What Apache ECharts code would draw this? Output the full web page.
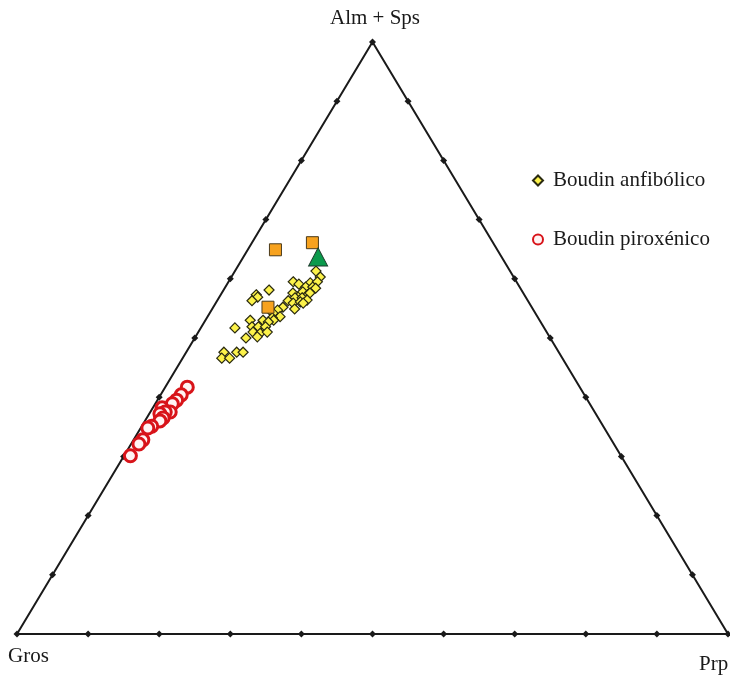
<!DOCTYPE html>
<html>
<head>
<meta charset="utf-8">
<script src="https://cdn.jsdelivr.net/npm/echarts@6/dist/echarts.min.js"></script>
<style>
  html, body { margin: 0; padding: 0; background: #fff; }
  #chart { width: 730px; height: 675px; }
</style>
</head>
<body>
<div id="chart"></div>
<script>
// Garnet compositions (mol %) — Alm+Sps apex, Gros lower-left, Prp lower-right
const apexLabels = ['Alm + Sps', 'Gros', 'Prp'];
const seriesNames = ['Boudin anfibólico', 'Boudin piroxénico'];

// Boudin anfibólico (amphibolitic boudin)
const anfAlmSps = [61.3, 60.3, 59.5, 59.1, 59.3, 59.5, 58.6, 58.6, 58.4, 58.1,
                   57.3, 56.9, 56.3, 57.6, 57.3, 57.8, 57.3, 57.6, 56.8, 56.8,
                   56.4, 56.3, 55.9, 56.1, 55.9, 54.9, 55.2, 54.7, 54.2, 53.6,
                   53.4, 53.0, 53.0, 53.0, 52.7, 51.9, 51.9, 51.9, 51.7, 51.0,
                   50.8, 51.0, 50.2, 50.0, 47.6, 47.6, 47.6, 46.6, 46.6];
const anfPrp    = [11.4, 12.5, 9.1, 10.1, 11.6, 12.5, 11.3, 12.3, 12.8, 6.4,
                   5.0, 5.4, 4.9, 10.0, 11.2, 11.3, 12.2, 12.4, 10.7, 11.7,
                   12.6, 10.0, 10.9, 11.8, 12.3, 11.6, 9.8, 9.3, 8.9, 10.2,
                   9.2, 6.3, 8.1, 9.6, 9.0, 7.1, 8.0, 9.0, 4.8, 7.7,
                   8.8, 9.7, 8.7, 7.2, 5.3, 7.1, 8.0, 5.5, 6.6];

// Boudin piroxénico (pyroxenitic boudin)
const pirAlmSps = [41.7, 40.4, 39.5, 38.9, 38.2, 37.5, 37.5, 37.2, 36.5, 36.0,
                   35.1, 34.8, 32.8, 32.1, 30.1];
const pirPrp    = [3.1, 2.9, 2.7, 2.4, 1.3, 2.8, 2.1, 1.5, 2.3, 2.1,
                   1.4, 1.0, 1.3, 1.1, 0.9];

// Additional garnet analyses
const sqAlmSps = [64.9, 66.1, 55.2];
const sqPrp    = [3.9, 8.5, 7.7];
const triAlmSps = [63.7];
const triPrp    = [10.5];

const tickSteps = [10, 20, 30, 40, 50, 60, 70, 80, 90];

// ternary (Alm+Sps, Prp, Gros) -> plane coordinates; Gros closes the sum to 100
function toXY(alm, prp) {
  const gros = 100 - alm - prp;
  return [prp + alm / 2, alm, gros];
}
function build(almArr, prpArr) {
  return almArr.map((a, i) => toXY(a, prpArr[i]));
}

const frame = [[0, 0], [100, 0], [50, 100], [0, 0]];
const ticks = [];
tickSteps.forEach(t => {
  ticks.push([t, 0]);               // Gros–Prp edge
  ticks.push([t / 2, t]);           // Gros–Alm edge
  ticks.push([100 - t / 2, t]);     // Prp–Alm edge
});
const corners = [[0, 0], [100, 0], [50, 100]];

const serif = '"Liberation Serif", "DejaVu Serif", serif';
const chart = echarts.init(document.getElementById('chart'));

chart.setOption({
  animation: false,
  backgroundColor: '#ffffff',
  grid: { left: 17, right: 2, top: 42, bottom: 41 },
  xAxis: { type: 'value', min: 0, max: 100, show: false },
  yAxis: { type: 'value', min: 0, max: 100, show: false },
  legend: {
    data: seriesNames,
    orient: 'vertical',
    left: 527,
    top: 165,
    itemGap: 38,
    itemWidth: 10,
    itemHeight: 10,
    textStyle: { fontFamily: serif, fontSize: 21, color: '#1a1a1a', padding: [0, 0, 0, 5] }
  },
  graphic: [
    { type: 'text', left: 330, top: 8,
      style: { text: apexLabels[0], font: '21px ' + serif, fill: '#1a1a1a' } },
    { type: 'text', left: 8, top: 646,
      style: { text: apexLabels[1], font: '21px ' + serif, fill: '#1a1a1a' } },
    { type: 'text', left: 699, top: 654,
      style: { text: apexLabels[2], font: '21px ' + serif, fill: '#1a1a1a' } }
  ],
  series: [
    {
      type: 'line', data: frame, symbol: 'none', silent: true,
      lineStyle: { color: '#1a1a1a', width: 2 }, z: 1
    },
    {
      type: 'scatter', data: ticks.concat(corners), symbol: 'diamond', symbolSize: 7,
      itemStyle: { color: '#1a1a1a', opacity: 1 }, silent: true, z: 2
    },
    {
      name: seriesNames[0], type: 'scatter', data: build(anfAlmSps, anfPrp),
      symbol: 'diamond', symbolSize: 10,
      itemStyle: { color: '#fcf24a', borderColor: '#2a2a10', borderWidth: 1.2, opacity: 1 }, z: 3
    },
    {
      name: seriesNames[1], type: 'scatter', data: build(pirAlmSps, pirPrp),
      symbol: 'circle', symbolSize: 12,
      itemStyle: { color: '#fff4f4', borderColor: '#d8141a', borderWidth: 3, opacity: 1 }, z: 3
    },
    {
      type: 'scatter', data: build(sqAlmSps, sqPrp),
      symbol: 'rect', symbolSize: 12,
      itemStyle: { color: '#f7a21e', borderColor: '#4a3a1a', borderWidth: 1, opacity: 1 }, z: 4
    },
    {
      type: 'scatter', data: build(triAlmSps, triPrp),
      symbol: 'triangle', symbolSize: [19, 18],
      itemStyle: { color: '#0b9a4c', borderColor: '#1a3a2a', borderWidth: 1, opacity: 1 }, z: 4
    }
  ]
});
</script>
</body>
</html>
